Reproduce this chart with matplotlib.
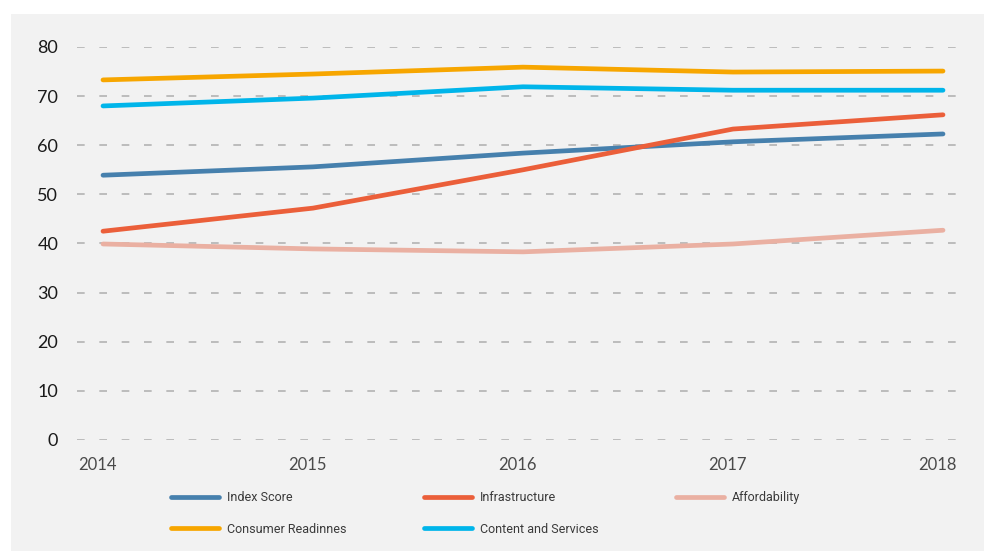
import matplotlib
matplotlib.use("Agg")
import matplotlib.pyplot as plt
import matplotlib.transforms as mtransforms
from matplotlib.patches import Rectangle

# Data
years = [2014, 2015, 2016, 2017, 2018]
index_score = [53.9, 55.6, 58.4, 60.7, 62.3]
infrastructure = [42.5, 47.2, 55.0, 63.3, 66.2]
affordability = [39.9, 38.9, 38.3, 39.9, 42.7]
consumer_readiness = [73.3, 74.5, 75.9, 74.9, 75.1]
content_services = [68.0, 69.6, 71.9, 71.2, 71.2]
y_ticks = [0, 10, 20, 30, 40, 50, 60, 70, 80]

series = [
    ("Index Score", index_score, "#4680ad"),
    ("Consumer Readinnes", consumer_readiness, "#f7a600"),
    ("Infrastructure", infrastructure, "#eb5f3a"),
    ("Content and Services", content_services, "#00b5ea"),
    ("Affordability", affordability, "#eab0a2"),
]

W, H = 984, 551
fig = plt.figure(figsize=(W / 100, H / 100), dpi=100)
fig.patch.set_facecolor("white")

# light grey panel behind the chart
fig.add_artist(Rectangle((11 / W, 0), (W - 11) / W, (H - 14) / H,
                         transform=fig.transFigure, facecolor="#f2f2f2",
                         edgecolor="none", zorder=0))

left, right = 77 / W, 970 / W
bottom, top = (H - 440) / H, (H - 47) / H
ax = fig.add_axes([left, bottom, right - left, top - bottom])
ax.set_facecolor("none")

for s in ax.spines.values():
    s.set_visible(False)

# dashed horizontal grid
for yv in y_ticks:
    ax.axhline(yv, color="#b3b3b3", lw=1.2, linestyle=(0, (4.6, 8.8)), zorder=1)

draw_order = ["Affordability", "Index Score", "Infrastructure",
              "Content and Services", "Consumer Readinnes"]
handles = {}
for name, vals, col in series:
    ln, = ax.plot(years, vals, color=col, lw=3.4, solid_capstyle="round",
                  solid_joinstyle="round", label=name,
                  zorder=3 + draw_order.index(name))
    handles[name] = ln

ax.set_xlim(2014 - 26 / 210, 2018 + 27 / 210)
ax.set_ylim(0, 80)
ax.set_yticks(y_ticks)
ax.set_xticks(years)
ax.set_xticklabels([str(y) for y in years])
ax.tick_params(axis="both", length=0)
ax.tick_params(axis="y", pad=13.5)
ax.tick_params(axis="x", pad=12)

for lbl in ax.get_yticklabels():
    lbl.set_fontfamily(["Lato", "DejaVu Sans"])
    lbl.set_fontsize(13)
    lbl.set_color("#1a1a1a")

shift = mtransforms.ScaledTranslation(-5.5 / 100, 0, fig.dpi_scale_trans)
for lbl in ax.get_xticklabels():
    lbl.set_fontfamily(["Lato", "DejaVu Sans"])
    lbl.set_fontsize(12)
    lbl.set_color("#4a4a4a")
    lbl.set_transform(lbl.get_transform() + shift)

leg_names = [n for n, _, _ in series]
leg = ax.legend([handles[n] for n in leg_names], leg_names,
                ncol=3, loc="upper left",
                bbox_to_anchor=(171 / W, (H - 491) / H),
                bbox_transform=fig.transFigure,
                frameon=False, borderpad=0, borderaxespad=0,
                handlelength=3.8, handletextpad=0.65,
                columnspacing=6.24, labelspacing=1.5,
                prop={"family": ["Roboto", "DejaVu Sans"], "size": 9})
for t in leg.get_texts():
    t.set_color("#3a3a3a")
for lh in leg.legend_handles:
    lh.set_linewidth(3.4)
    lh.set_solid_capstyle("round")

fig.savefig("out.png", dpi=100, facecolor=fig.get_facecolor())
